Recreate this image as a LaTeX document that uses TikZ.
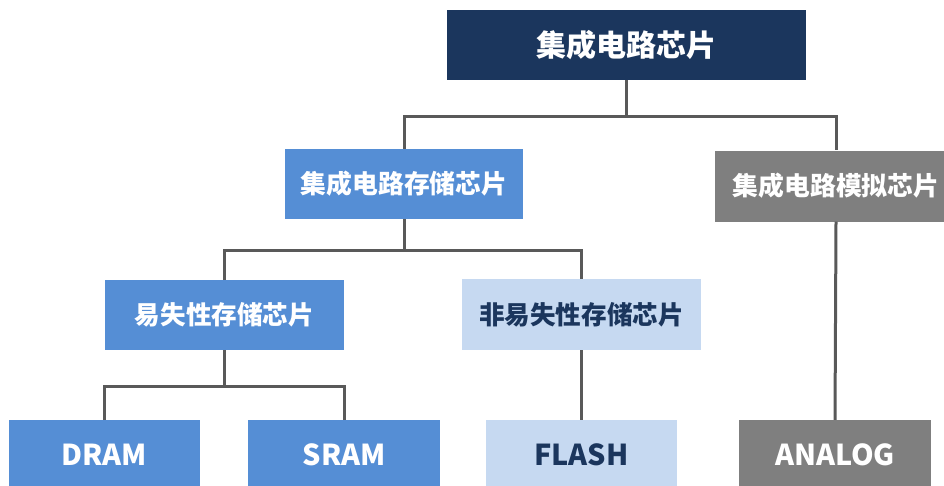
\documentclass[tikz,border=0pt]{standalone}
\usepackage{fontspec}
\usepackage{xcolor}
\usepackage{tikz}
\setmainfont{Noto Sans CJK SC}

\definecolor{navy}{HTML}{1B365D}
\definecolor{midblue}{HTML}{558ED5}
\definecolor{paleblue}{HTML}{C6D9F1}
\definecolor{midgray}{HTML}{7F7F7F}
\definecolor{linkgray}{HTML}{595959}

\begin{document}
\begin{tikzpicture}[x=1pt,y=1pt]
    \tikzstyle{every node}+=[inner sep=0pt, font=\bfseries]
    \tikzstyle{box}=[rectangle, minimum height=70pt, text=white]
    \tikzstyle{link}=[draw=linkgray, line width=3pt]
    \useasboundingbox [fill=white] (0,0) rectangle (944,-485);
    % level 0
    \node [box, fill=navy, minimum width=359pt, font=\bfseries\fontsize{30}{32}\selectfont] (chip) at (626.5,-45) {集成电路芯片};
    % level 1
    \node [box, fill=midblue, minimum width=238pt, font=\bfseries\fontsize{25.8}{28}\selectfont] (memchip) at (404,-184) {集成电路存储芯片};
    \node [box, fill=midgray, minimum width=242pt, minimum height=71pt, font=\bfseries\fontsize{25.8}{28}\selectfont] (anachip) at (836,-186) {集成电路模拟芯片};
    % level 2
    \node [box, fill=midblue, minimum width=239pt, font=\bfseries\fontsize{25.6}{28}\selectfont] (volchip) at (224.5,-315) {易失性存储芯片};
    \node [box, fill=paleblue, text=navy, minimum width=239pt, minimum height=71pt, font=\bfseries\fontsize{25.6}{28}\selectfont] (nvchip) at (581.5,-314.5) {非易失性存储芯片};
    % level 3
    \node [box, fill=midblue, minimum width=191pt, font=\bfseries\fontsize{28.8}{31}\selectfont] (dram) at (104.5,-455) {DRAM};
    \node [box, fill=midblue, minimum width=192pt, font=\bfseries\fontsize{28.8}{31}\selectfont] (sram) at (344,-455) {SRAM};
    \node [box, fill=paleblue, text=navy, minimum width=191pt, font=\bfseries\fontsize{28.8}{31}\selectfont] (flash) at (581.5,-455) {FLASH};
    \node [box, fill=midgray, minimum width=192pt, font=\bfseries\fontsize{28.8}{31}\selectfont] (analog) at (835,-455) {ANALOG};
    % connectors
    \draw [link] (chip.south) -- ++(0,-36) coordinate (j0) -| (memchip.north);
    \draw [link] (j0) -| (anachip.north);
    \draw [link] (memchip.south) -- ++(0,-31) coordinate (j1) -| (volchip.north);
    \draw [link] (j1) -| (nvchip.north);
    \draw [link] (volchip.south) -- ++(0,-36) coordinate (j2) -| (dram.north);
    \draw [link] (j2) -| (sram.north);
    \draw [link] (nvchip.south) -- (flash.north);
    \draw [link] (anachip.south) -- (analog.north);
\end{tikzpicture}
\end{document}
